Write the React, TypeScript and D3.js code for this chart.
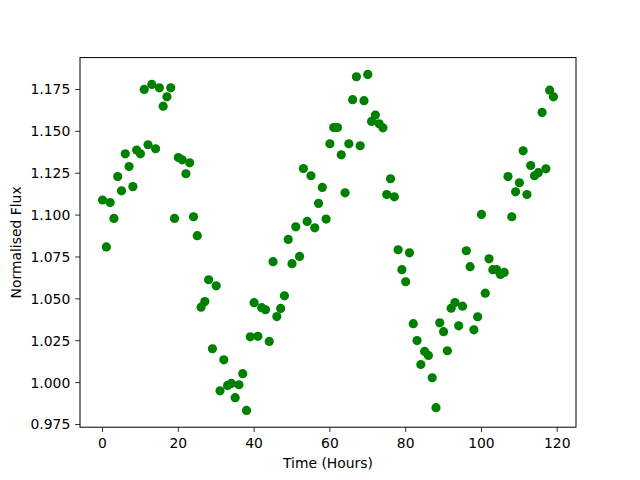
import React from "react";
import * as d3 from "d3";

const hours: number[] = d3.range(0, 120);
const flux: number[] = [
  1.109, 1.081, 1.1075, 1.098, 1.123, 1.1145, 1.1366, 1.129, 1.117, 1.1388,
  1.1366, 1.175, 1.142, 1.178, 1.1396, 1.176, 1.165, 1.1706, 1.176, 1.098,
  1.1344, 1.133, 1.1247, 1.1312, 1.099, 1.0877, 1.045, 1.0484, 1.0614, 1.0202,
  1.0578, 0.9951, 1.0136, 0.9983, 0.9995, 0.991, 0.9987, 1.0053, 0.9834, 1.0273,
  1.0477, 1.0276, 1.0447, 1.0435, 1.0246, 1.0722, 1.0394, 1.0443, 1.0518, 1.0855,
  1.071, 1.093, 1.0753, 1.1278, 1.0962, 1.1235, 1.0924, 1.107, 1.1165, 1.0976,
  1.1426, 1.1523, 1.1523, 1.136, 1.1133, 1.1426, 1.1689, 1.1826, 1.1414, 1.1683,
  1.184, 1.1559, 1.1597, 1.1545, 1.1521, 1.1123, 1.1217, 1.1109, 1.0793, 1.0674,
  1.0602, 1.0775, 1.0352, 1.0251, 1.0108, 1.0186, 1.0162, 1.0029, 0.985, 1.0357,
  1.0304, 1.019, 1.0444, 1.0478, 1.0339, 1.0456, 1.0787, 1.0692, 1.0315, 1.0393,
  1.1004, 1.0534, 1.0739, 1.0674, 1.0674, 1.0646, 1.0658, 1.123, 1.099, 1.1139,
  1.1193, 1.1384, 1.1123, 1.1296, 1.1235, 1.1253, 1.1613, 1.1276, 1.1746, 1.1706,
];
const xTicks: number[] = [0, 20, 40, 60, 80, 100, 120];
const yTicks: number[] = [0.975, 1.0, 1.025, 1.05, 1.075, 1.1, 1.125, 1.15, 1.175];
const xLabel = "Time (Hours)";
const yLabel = "Normalised Flux";

const W = 640, H = 480;
const L = 80, R = 576, T = 57.6, B = 427.2;
const FONT = "'DejaVu Sans', sans-serif";
const FS = 13.9;
const TICK = 4.86;

export default function App() {
  const [xmin, xmax] = d3.extent(hours) as [number, number];
  const [ymin, ymax] = d3.extent(flux) as [number, number];
  const xm = (xmax - xmin) * 0.05, ym = (ymax - ymin) * 0.05;
  const x = d3.scaleLinear().domain([xmin - xm, xmax + xm]).range([L, R]);
  const y = d3.scaleLinear().domain([ymin - ym, ymax + ym]).range([B, T]);

  return (
    <svg width={W} height={H} style={{ position: "fixed", left: 0, top: 0, background: "#fff" }} fontFamily={FONT}>
      <rect x={0} y={0} width={W} height={H} fill="#fff" />
      <g>
        {hours.map((h, i) => (
          <circle key={i} cx={x(h)} cy={y(flux[i])} r={4.6} fill="#008000" />
        ))}
      </g>
      <rect x={L} y={T} width={R - L} height={B - T} fill="none" stroke="#000" strokeWidth={1} />
      {xTicks.map((t) => (
        <g key={"x" + t}>
          <line x1={x(t)} x2={x(t)} y1={B} y2={B + TICK} stroke="#000" strokeWidth={0.8} />
          <text x={x(t)} y={B + TICK + 4.86 + 10.6} textAnchor="middle" fontSize={FS} fill="#000">
            {d3.format("d")(t)}
          </text>
        </g>
      ))}
      {yTicks.map((t) => (
        <g key={"y" + t}>
          <line x1={L - TICK} x2={L} y1={y(t)} y2={y(t)} stroke="#000" strokeWidth={0.8} />
          <text x={L - TICK - 4.86} y={y(t)} dy="0.36em" textAnchor="end" fontSize={FS} fill="#000">
            {d3.format(".3f")(t)}
          </text>
        </g>
      ))}
      <text x={(L + R) / 2} y={468} textAnchor="middle" fontSize={FS} fill="#000">{xLabel}</text>
      <text transform={`translate(21,${(T + B) / 2}) rotate(-90)`} textAnchor="middle" fontSize={FS} fill="#000">{yLabel}</text>
    </svg>
  );
}
